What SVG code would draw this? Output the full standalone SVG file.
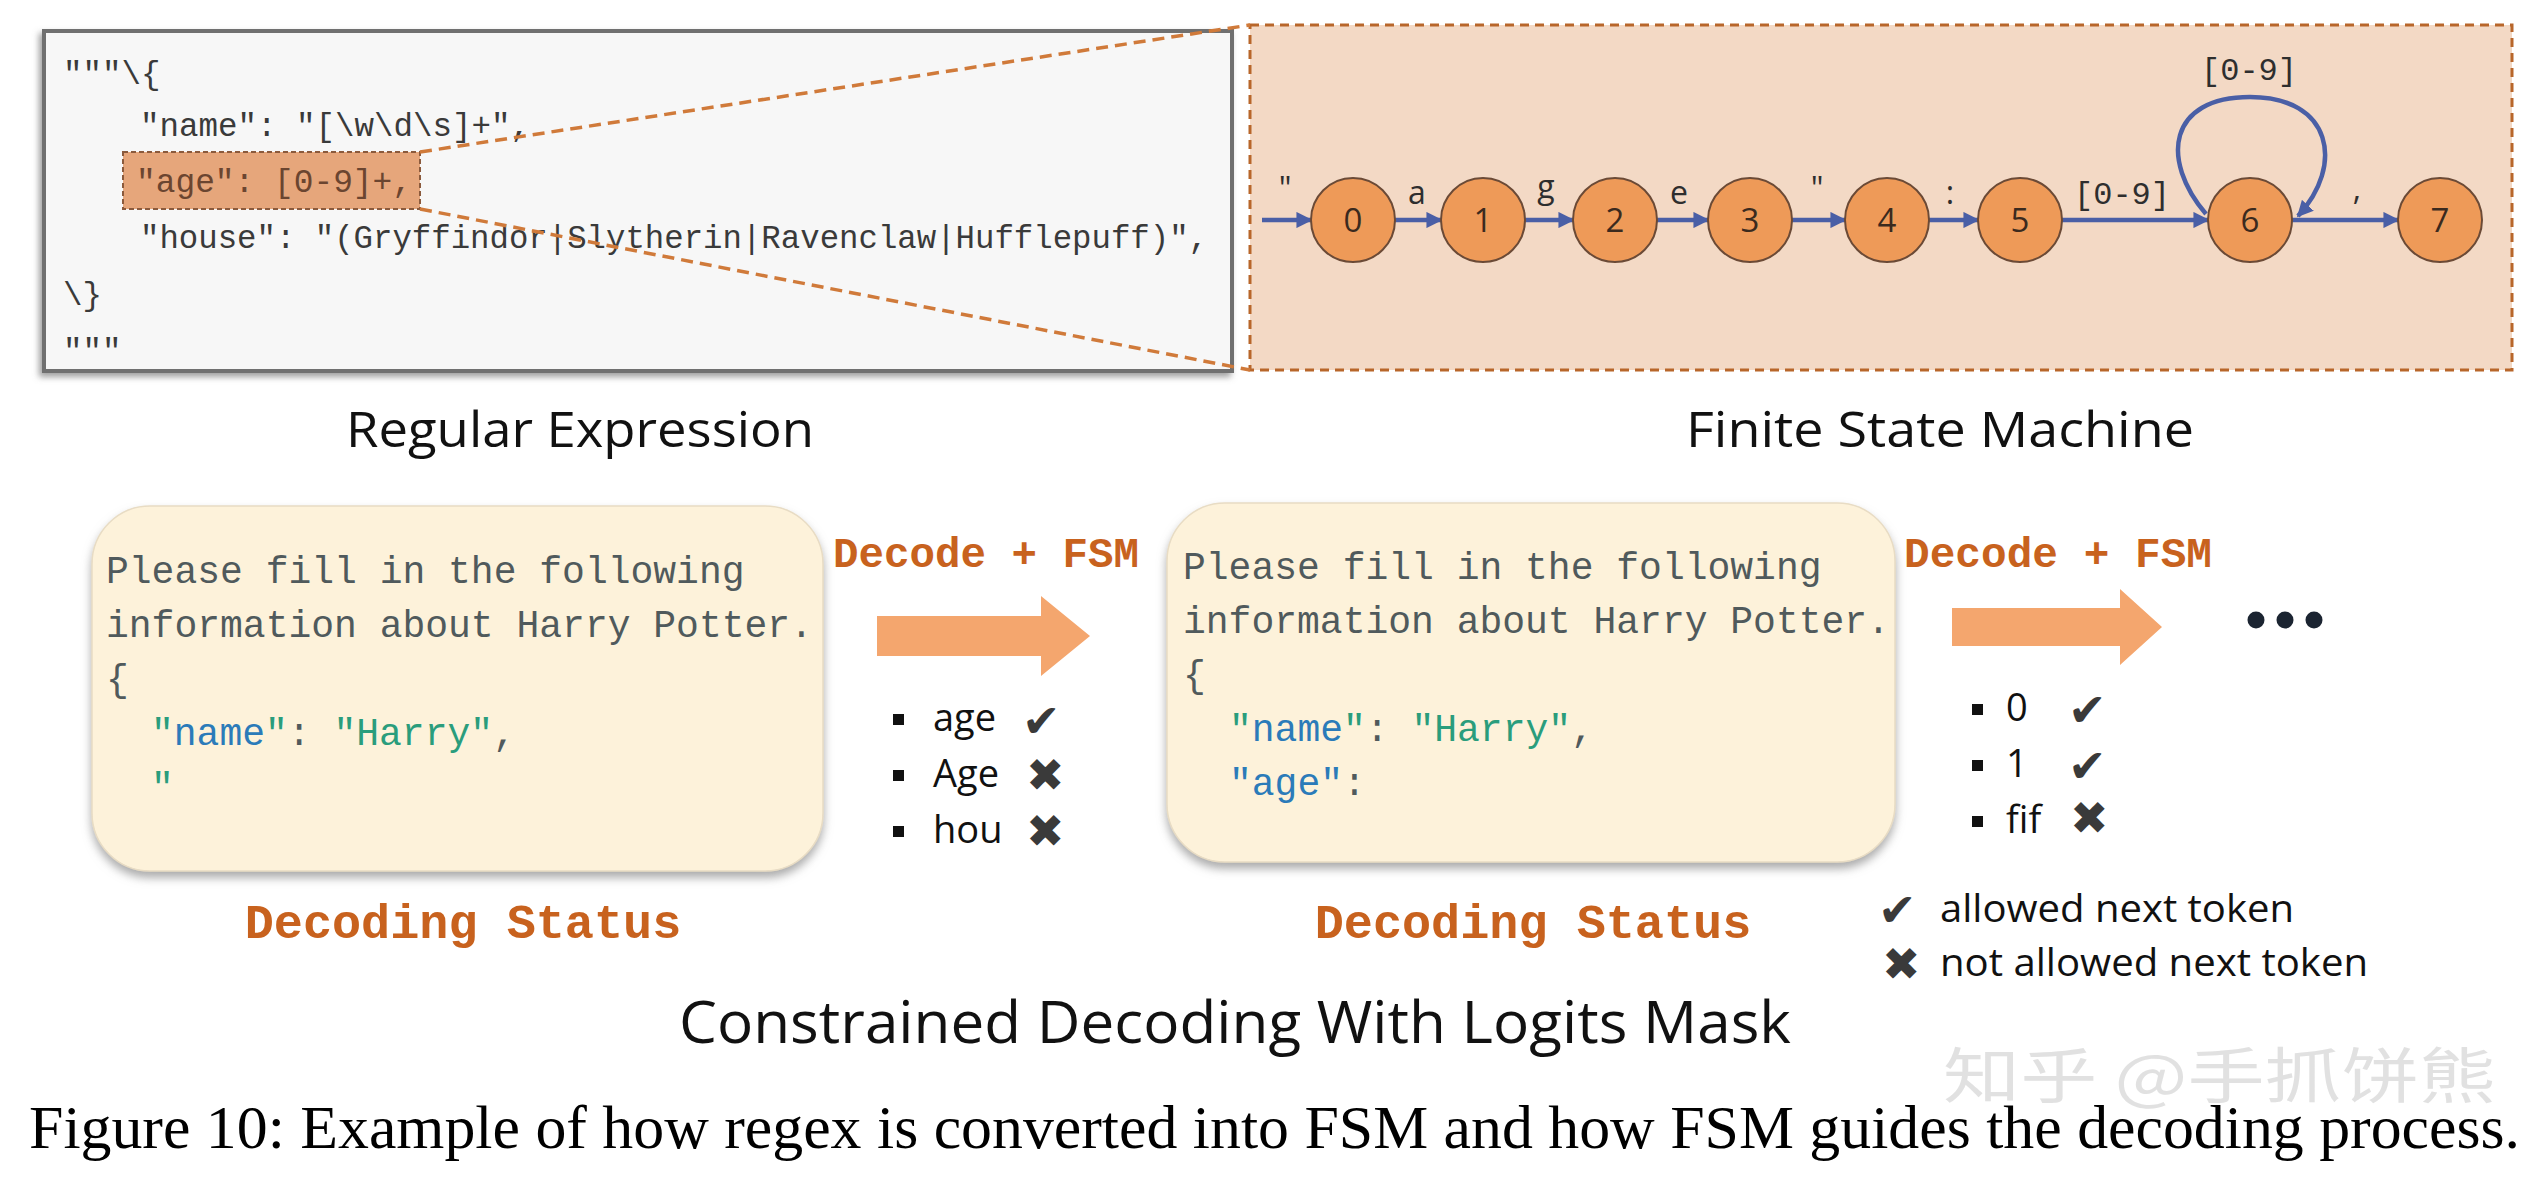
<svg xmlns="http://www.w3.org/2000/svg" width="2533" height="1185" viewBox="0 0 2533 1185">
<style>
.mono{font-family:"Liberation Mono","DejaVu Sans Mono",monospace}
.sans{font-family:"Open Sans","Liberation Sans",sans-serif}
.rx{font-size:32.5px;fill:#3a3a3a}
.code{font-size:38px;fill:#505a5c}
.key{fill:#2b7bb9}
.str{fill:#2a9d7c}
.orange{font-weight:bold;fill:#c8621e}
.node circle{fill:#ee9a58;stroke:#6b4a36;stroke-width:2}
.node text{font-family:"Open Sans","Liberation Sans",sans-serif;font-size:33px;fill:#3b2a1e;text-anchor:middle}
.edge{stroke:#4a5fa6;stroke-width:4.5;fill:none;marker-end:url(#arr)}
.elab{font-family:"Open Sans","Liberation Sans",sans-serif;font-size:32px;fill:#2e2e2e;text-anchor:middle}
.elabm{font-family:"Liberation Mono","DejaVu Sans Mono",monospace;font-size:32px;fill:#2e2e2e;text-anchor:middle}
.tok{font-family:"Open Sans","Liberation Sans",sans-serif;font-size:38px;fill:#111}
.leg{font-family:"Open Sans","Liberation Sans",sans-serif;font-size:38px;fill:#111}
.mark{font-family:"DejaVu Sans",sans-serif;font-size:46px;fill:#3a3a3a}
.bigarrow{fill:#f4a66e}
.title{font-family:"Open Sans","Liberation Sans",sans-serif;fill:#111;text-anchor:middle}
</style>
<defs>
<marker id="arr" viewBox="0 0 10 10" refX="9" refY="5" markerWidth="3.6" markerHeight="3.6" orient="auto" markerUnits="strokeWidth">
<path d="M0,0 L10,5 L0,10 z" fill="#4a5fa6"/>
</marker>
<filter id="sh1" x="-5%" y="-5%" width="110%" height="115%">
<feDropShadow dx="-3" dy="4" stdDeviation="3" flood-color="#777" flood-opacity="0.7"/>
</filter>
<filter id="sh2" x="-5%" y="-5%" width="110%" height="115%">
<feDropShadow dx="0" dy="6" stdDeviation="5" flood-color="#888" flood-opacity="0.7"/>
</filter>
</defs>
<rect width="2533" height="1185" fill="#ffffff"/>

<!-- Regex box -->
<g id="regex-box">
<rect x="44" y="31" width="1188" height="340" fill="#f7f7f7" stroke="#707070" stroke-width="4" filter="url(#sh1)"/>
<rect x="123" y="152" width="297" height="57" fill="#e6a67b" stroke="#8b5a3c" stroke-width="2" stroke-dasharray="5 3"/>
<text class="mono rx" x="63" y="84">"""\{</text>
<text class="mono rx" x="140" y="136">"name": "[\w\d\s]+",</text>
<text class="mono rx" x="136" y="192" style="fill:#6b4530" textLength="276" lengthAdjust="spacingAndGlyphs">"age": [0-9]+,</text>
<text class="mono rx" x="140" y="248" textLength="1068" lengthAdjust="spacingAndGlyphs">"house": "(Gryffindor|Slytherin|Ravenclaw|Hufflepuff)",</text>
<text class="mono rx" x="63" y="305">\}</text>
<text class="mono rx" x="63" y="361">"""</text>
</g>

<!-- FSM box -->
<g id="fsm-box">
<rect x="1250" y="25" width="1262" height="345" fill="#f3d9c5" stroke="#b8662a" stroke-width="3" stroke-dasharray="9 6"/>
</g>

<!-- Zoom lines -->
<g id="zoom-lines" stroke="#d07a3a" stroke-width="3.5" stroke-dasharray="12 7" fill="none">
<line x1="420" y1="152" x2="1250" y2="25"/>
<line x1="420" y1="209" x2="1250" y2="370"/>
</g>

<!-- Connectors -->
<g id="connectors">
<line class="edge" x1="1262" y1="220" x2="1311" y2="220"/>
<line class="edge" x1="1395" y1="220" x2="1441" y2="220"/>
<line class="edge" x1="1525" y1="220" x2="1573" y2="220"/>
<line class="edge" x1="1657" y1="220" x2="1708" y2="220"/>
<line class="edge" x1="1792" y1="220" x2="1845" y2="220"/>
<line class="edge" x1="1929" y1="220" x2="1978" y2="220"/>
<line class="edge" x1="2062" y1="220" x2="2208" y2="220"/>
<line class="edge" x1="2292" y1="220" x2="2398" y2="220"/>
<path class="edge" d="M2206,214 C2160,160 2168,97 2250,97 C2332,97 2345,165 2298,216"/>
<text class="elab" x="1285" y="200">"</text>
<text class="elab" x="1417" y="204">a</text>
<text class="elab" x="1546" y="198">g</text>
<text class="elab" x="1679" y="204">e</text>
<text class="elab" x="1817" y="200">"</text>
<text class="elab" x="1950" y="204">:</text>
<text class="elabm" x="2122" y="204">[0-9]</text>
<text class="elabm" x="2249" y="80">[0-9]</text>
<text class="elab" x="2357" y="200">,</text>
</g>

<!-- Nodes -->
<g id="node-0" class="node"><circle cx="1353" cy="220" r="42"/><text x="1353" y="232">0</text></g>
<g id="node-1" class="node"><circle cx="1483" cy="220" r="42"/><text x="1483" y="232">1</text></g>
<g id="node-2" class="node"><circle cx="1615" cy="220" r="42"/><text x="1615" y="232">2</text></g>
<g id="node-3" class="node"><circle cx="1750" cy="220" r="42"/><text x="1750" y="232">3</text></g>
<g id="node-4" class="node"><circle cx="1887" cy="220" r="42"/><text x="1887" y="232">4</text></g>
<g id="node-5" class="node"><circle cx="2020" cy="220" r="42"/><text x="2020" y="232">5</text></g>
<g id="node-6" class="node"><circle cx="2250" cy="220" r="42"/><text x="2250" y="232">6</text></g>
<g id="node-7" class="node"><circle cx="2440" cy="220" r="42"/><text x="2440" y="232">7</text></g>

<!-- Section titles -->
<text class="title" x="580" y="447" font-size="50" textLength="468" lengthAdjust="spacingAndGlyphs">Regular Expression</text>
<text class="title" x="1940" y="447" font-size="50" textLength="508" lengthAdjust="spacingAndGlyphs">Finite State Machine</text>

<!-- Decoding status 1 -->
<g id="status-1">
<rect x="92" y="506" width="731" height="365" rx="58" fill="#fdf2da" stroke="#e8dcc4" stroke-width="1.5" filter="url(#sh2)"/>
<text class="mono code" x="106" y="583">Please fill in the following</text>
<text class="mono code" x="106" y="637">information about Harry Potter.</text>
<text class="mono code" x="106" y="691">{</text>
<text class="mono code" x="151" y="745"><tspan class="str">"</tspan><tspan class="key">name</tspan><tspan class="str">"</tspan>: <tspan class="str">"Harry"</tspan>,</text>
<text class="mono code" x="151" y="799"><tspan class="str">"</tspan></text>
<text class="mono orange" x="463" y="938" font-size="48.5" text-anchor="middle">Decoding Status</text>
</g>

<!-- Step 1 arrow and tokens -->
<g id="step-1">
<text class="mono orange" x="833" y="567" font-size="42.5" textLength="306" lengthAdjust="spacingAndGlyphs">Decode + FSM</text>
<polygon class="bigarrow" points="877,616 1041,616 1041,596 1090,636 1041,676 1041,656 877,656"/>
<rect x="893" y="714" width="11" height="11" fill="#111"/>
<rect x="893" y="770" width="11" height="11" fill="#111"/>
<rect x="893" y="826" width="11" height="11" fill="#111"/>
<text class="tok" x="933" y="731">age</text>
<text class="tok" x="933" y="787">Age</text>
<text class="tok" x="933" y="843">hou</text>
<text class="mark" x="1022" y="737">✔</text>
<text class="mark" x="1026" y="791">✖</text>
<text class="mark" x="1026" y="847">✖</text>
</g>

<!-- Decoding status 2 -->
<g id="status-2">
<rect x="1167" y="503" width="728" height="359" rx="58" fill="#fdf2da" stroke="#e8dcc4" stroke-width="1.5" filter="url(#sh2)"/>
<text class="mono code" x="1183" y="579">Please fill in the following</text>
<text class="mono code" x="1183" y="633">information about Harry Potter.</text>
<text class="mono code" x="1183" y="687">{</text>
<text class="mono code" x="1229" y="741"><tspan class="str">"</tspan><tspan class="key">name</tspan><tspan class="str">"</tspan>: <tspan class="str">"Harry"</tspan>,</text>
<text class="mono code" x="1229" y="795"><tspan class="key">"age"</tspan>:</text>
<text class="mono orange" x="1533" y="938" font-size="48.5" text-anchor="middle">Decoding Status</text>
</g>

<!-- Step 2 arrow and tokens -->
<g id="step-2">
<text class="mono orange" x="1904" y="567" font-size="42.5" textLength="308" lengthAdjust="spacingAndGlyphs">Decode + FSM</text>
<polygon class="bigarrow" points="1952,608 2120,608 2120,589 2162,627 2120,665 2120,646 1952,646"/>
<circle cx="2256" cy="620" r="8.5" fill="#1b2431"/>
<circle cx="2285" cy="620" r="8.5" fill="#1b2431"/>
<circle cx="2314" cy="620" r="8.5" fill="#1b2431"/>
<rect x="1972" y="704" width="11" height="11" fill="#111"/>
<rect x="1972" y="760" width="11" height="11" fill="#111"/>
<rect x="1972" y="816" width="11" height="11" fill="#111"/>
<text class="tok" x="2006" y="721">0</text>
<text class="tok" x="2006" y="777">1</text>
<text class="tok" x="2006" y="833">fif</text>
<text class="mark" x="2068" y="726">✔</text>
<text class="mark" x="2068" y="782">✔</text>
<text class="mark" x="2070" y="834">✖</text>
</g>

<!-- Legend -->
<g id="legend">
<text class="mark" x="1878" y="926">✔</text>
<text class="leg" x="1940" y="922" textLength="354" lengthAdjust="spacingAndGlyphs">allowed next token</text>
<text class="mark" x="1882" y="980">✖</text>
<text class="leg" x="1940" y="976" textLength="428" lengthAdjust="spacingAndGlyphs">not allowed next token</text>
</g>

<text class="title" x="1235" y="1043" font-size="58" textLength="1112" lengthAdjust="spacingAndGlyphs">Constrained Decoding With Logits Mask</text>

<text x="1943" y="1098" font-family="'Noto Sans CJK SC',sans-serif" font-size="60" fill="#c8c8c8" fill-opacity="0.55" textLength="553" lengthAdjust="spacingAndGlyphs">知乎 @手抓饼熊</text>

<text x="29" y="1148" font-family="'Liberation Serif','Times New Roman',serif" font-size="62" fill="#000" textLength="2491" lengthAdjust="spacingAndGlyphs">Figure 10: Example of how regex is converted into FSM and how FSM guides the decoding process.</text>
</svg>
